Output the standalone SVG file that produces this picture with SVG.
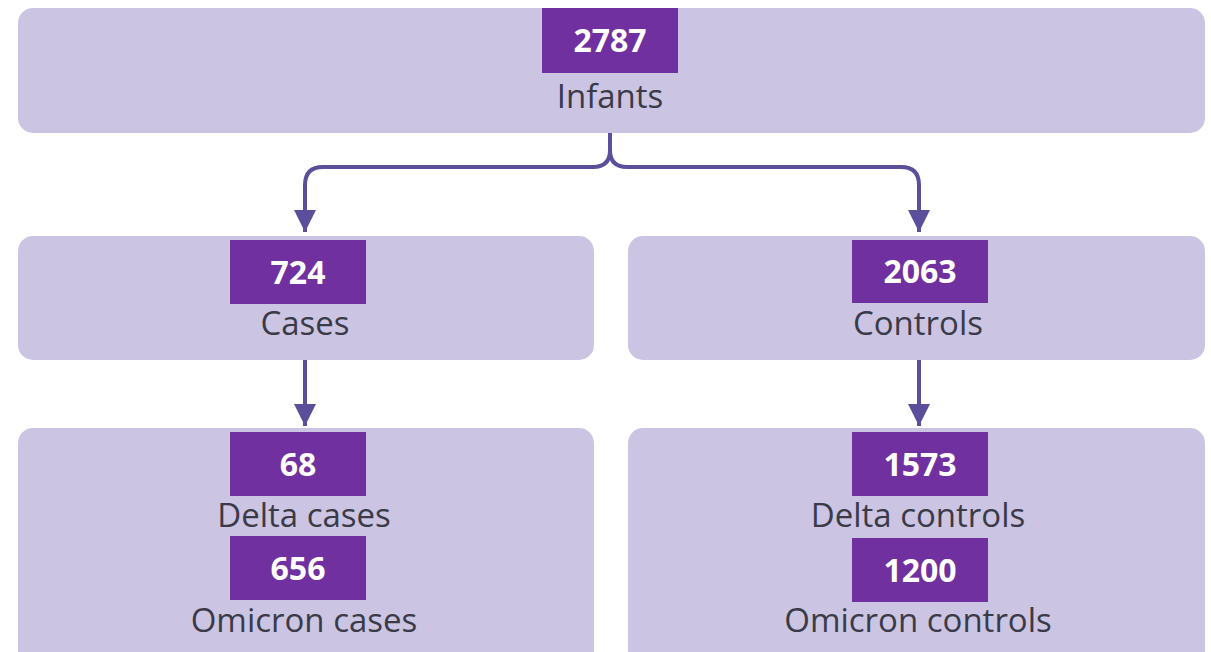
<svg xmlns="http://www.w3.org/2000/svg" width="1211" height="652" viewBox="0 0 1211 652">
<defs>
<style>
.box{fill:#cbc5e3;}
.tag{fill:#7030a0;}
.num{font-family:"Open Sans","Liberation Sans",sans-serif;font-weight:bold;font-size:32px;fill:#ffffff;text-anchor:middle;}
.lbl{font-family:"Open Sans","Liberation Sans",sans-serif;font-size:33px;fill:#3a3a48;text-anchor:middle;}
.con{fill:none;stroke:#5b4f9b;stroke-width:4;}
</style>
<marker id="arr" viewBox="0 0 10 10" refX="10" refY="5" markerWidth="5.5" markerHeight="6" markerUnits="strokeWidth" orient="auto">
<path d="M0,0 L10,5 L0,10 z" fill="#5b4f9b"/>
</marker>
</defs>
<rect width="1211" height="652" fill="#ffffff"/>
<g id="connectors">
<path class="con" d="M610,133 V150 Q610,167 593,167 H323 Q305,167 305,185 V232" marker-end="url(#arr)"/>
<path class="con" d="M610,150 Q610,167 627,167 H901 Q919,167 919,185 V232"  marker-end="url(#arr)"/>
<path class="con" d="M305,360 V426" marker-end="url(#arr)"/>
<path class="con" d="M919,360 V426" marker-end="url(#arr)"/>
</g>
<g id="infants">
<rect class="box" x="18" y="8" width="1187" height="125" rx="15"/>
<rect class="tag" x="542" y="8" width="136" height="65"/>
<text class="num" x="610" y="52">2787</text>
<text class="lbl" x="610" y="108">Infants</text>
</g>
<g id="cases">
<rect class="box" x="18" y="236" width="576" height="124" rx="15"/>
<rect class="tag" x="230" y="240" width="136" height="64"/>
<text class="num" x="298" y="284">724</text>
<text class="lbl" x="305" y="335">Cases</text>
</g>
<g id="controls">
<rect class="box" x="628" y="236" width="577" height="124" rx="15"/>
<rect class="tag" x="852" y="240" width="136" height="63"/>
<text class="num" x="920" y="283">2063</text>
<text class="lbl" x="918" y="335">Controls</text>
</g>
<g id="case-variants">
<rect class="box" x="18" y="428" width="576" height="240" rx="15"/>
<rect class="tag" x="230" y="432" width="136" height="64"/>
<text class="num" x="298" y="476">68</text>
<text class="lbl" x="304" y="527">Delta cases</text>
<rect class="tag" x="230" y="536" width="136" height="64"/>
<text class="num" x="298" y="580">656</text>
<text class="lbl" x="304" y="632">Omicron cases</text>
</g>
<g id="control-variants">
<rect class="box" x="628" y="428" width="577" height="240" rx="15"/>
<rect class="tag" x="852" y="432" width="136" height="64"/>
<text class="num" x="920" y="476">1573</text>
<text class="lbl" x="918" y="527">Delta controls</text>
<rect class="tag" x="852" y="538" width="136" height="64"/>
<text class="num" x="920" y="582">1200</text>
<text class="lbl" x="918" y="632">Omicron controls</text>
</g>
</svg>
